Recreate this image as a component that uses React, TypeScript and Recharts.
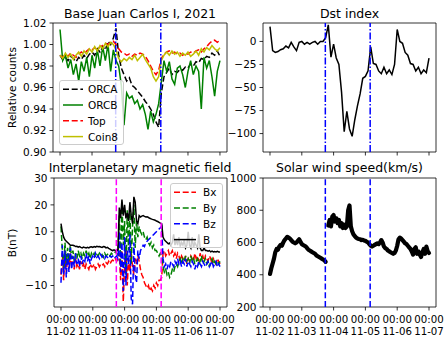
import React from "react";
import { LineChart, Line, XAxis, YAxis, ReferenceLine, ReferenceArea, Legend } from "recharts";

const FONT = '"DejaVu Sans", Verdana, sans-serif';
const W = 445;
const H = 338;

// x axis: days after 2021-11-02 00:00
const dayTicks = [0, 1, 2, 3, 4, 5];
const tickTimes = ["00:00", "00:00", "00:00", "00:00", "00:00", "00:00"];
const tickDates = ["11-02", "11-03", "11-04", "11-05", "11-06", "11-07"];
const eventDays = [1.74, 3.15];
const xDomain = [-0.22, 5.22];

const countTicks = [0.9, 0.92, 0.94, 0.96, 0.98, 1.0, 1.02];
const dstTicks = [-100, -75, -50, -25, 0];
const imfTicks = [-10, 0, 10, 20, 30];
const speedTicks = [200, 400, 600, 800, 1000];

// relative counts, every 2 hours
const orca = [
  0.990, 0.986, 0.988, 0.985, 0.989, 0.987, 0.984, 0.988, 0.986, 0.990, 0.987, 0.991,
  0.993, 0.990, 0.996, 0.993, 0.998, 0.995, 1.003, 1.000, 1.006, 1.015, 0.990, 0.978,
  0.972, 0.966, 0.969, 0.962, 0.960, 0.957, 0.954, 0.951, 0.947, 0.944, 0.940, 0.935,
  0.928, 0.923, 0.955, 0.970, 0.974, 0.978, 0.972, 0.975, 0.974, 0.977, 0.976, 0.979,
  0.978, 0.982, 0.980, 0.984, 0.983, 0.987, 0.986, 0.989, 0.988, 0.992, 0.990, 0.994,
  0.989,
];
const orcb = [
  1.014, 0.985, 0.990, 0.978, 0.986, 0.972, 0.982, 0.966, 0.984, 0.975, 0.988, 0.970,
  0.990, 0.978, 0.995, 0.980, 0.998, 0.985, 1.000, 0.975, 0.995, 0.985, 0.980, 0.962,
  0.925, 0.955, 0.950, 0.952, 0.945, 0.948, 0.940, 0.944, 0.935, 0.921, 0.938, 0.928,
  0.935, 0.945, 0.965, 0.985, 0.975, 0.984, 0.968, 0.963, 0.978, 0.980, 0.972, 0.960,
  0.975, 0.985, 0.972, 0.980, 0.975, 0.940, 0.988, 0.978, 0.985, 0.970, 0.952, 0.975,
  0.985,
];
const topCounts = [
  0.990, 0.988, 0.991, 0.989, 0.992, 0.990, 0.988, 0.991, 0.993, 0.991, 0.994, 0.996,
  0.995, 0.997, 0.995, 0.998, 0.999, 1.001, 1.000, 1.002, 1.003, 1.000, 0.996, 0.993,
  0.992, 0.990, 0.991, 0.989, 0.991, 0.990, 0.992, 0.991, 0.989, 0.985, 0.980, 0.975,
  0.972, 0.976, 0.987, 0.991, 0.993, 0.994, 0.992, 0.993, 0.991, 0.992, 0.990, 0.992,
  0.991, 0.993, 0.992, 0.994, 0.995, 0.993, 0.996, 0.998, 1.001, 1.003, 1.004, 1.002,
  1.004,
];
const coin8 = [
  0.990, 0.987, 0.992, 0.988, 0.991, 0.986, 0.990, 0.993, 0.989, 0.994, 0.991, 0.996,
  0.993, 0.998, 0.994, 0.999, 0.996, 1.001, 0.998, 1.002, 1.000, 0.995, 0.987, 0.984,
  0.987, 0.985, 0.988, 0.986, 0.990, 0.985, 0.988, 0.991, 0.986, 0.982, 0.978, 0.970,
  0.966, 0.970, 0.985, 0.990, 0.993, 0.990, 0.994, 0.991, 0.993, 0.989, 0.992, 0.990,
  0.993, 0.989, 0.991, 0.994, 0.990, 0.996, 0.993, 0.997, 0.995, 0.999, 0.996, 0.994,
  0.997,
];

// Dst (nT), every 2 hours
const dst = [
  16, -10, -12, -11, -9, -8, -5, -7, -1, -6, -10, -1,
  0, -3, -1, -3, -1, 0, -3, 0, 0, 4, 18, -17,
  -3, -18, -25, -55, -98, -76, -95, -103, -85, -70, -57, -40,
  -38, -32, -6, -24, -25, -32, -35, -28, -35, -31, -36, -25,
  13, 0, -2, -12, -15, -24, -25, -32, -28, -35, -31, -34,
  -18,
];

// IMF (nT), hourly
const bx = [
  -6, 2, -8, 3, -5, 0, -4, 2, -3, -1, -4, 0,
  -3, -2, -4, -1, -3, -2, -4, -2, -3, -4, -2, -3,
  -3, -2, -4, -3, -2, -3, -2, -2.5, -2, -3, -1.5, -2,
  -1, -2, -1, -0.5, -1, 0, -1, 0, 2, -8, 3, -16,
  -3, 4, -10, 0, -5, 2, -3, -6, 0, -2, 1, -1,
  -4, -6, -7, -9, -10, -11, -10, -12, -11, -12, -10, -11,
  -9, -10, -8, -8, -7, 2, 3, 1, 2, 3, 1, 2,
  3, 1, 2, 0, 2, 1, -1, 1, 0, -1, 1, -2,
  0, -1, 1, 0, -1, 2, 0, 1, -1, 2, 0, 1,
  -1, 1, 0, -1, 1, 0, -2, 0, -1, -2, 0, -1,
  -2,
];
const by = [
  12, 3, -4, 6, -2, 4, -1, 5, 0, 3, -1, 2,
  0, 3, 1, 2, 0, 2, 1, 3, 1, 2, 0, 2,
  1, 2, 0.5, 1.5, 1, 2, 1, 1.5, 0.5, 2, 1, 1.5,
  2, 1, 2, 1.5, 2, 2.5, 2, 1.5, 16, -3, 21, 5,
  14, -6, 18, 3, 19, -2, 12, 20, 4, 14, 8, 12,
  10, 9, 10, 8, 7, 8, 6, 5, 6, 4, 5, 3,
  3, 2, 1, 2, 1, -3, -5, -4, -6, -5, -7, -6,
  -4, -5, -3, -2, -3, -1, 0, -2, 0, -1, 1, -1,
  0, -2, 1, -1, 0, -2, -1, 0, -2, -1, 1, -2,
  -1, 0, -2, -1, -3, -1, 0, -2, -1, -2, -1, -2,
  -1,
];
const bz = [
  -9, 5, -6, 3, -7, 2, -5, 4, -4, 1, -3, 2,
  -2, 0, -3, 1, -2, 0, -1, 2, -1, 1, -2, 0,
  1, 0, 2, 0.5, 1, 0, 1.5, 0.5, 1, 0, 1, 0.5,
  0, 1, 0.5, 1, 0, 0.5, 1, 0, 10, -5, 6, -12,
  8, -10, 3, -2, 9, -15, -17, 6, -6, -9, 3, 0,
  3, 4, 5, 4.5, 6, 6.5, 7, 7.5, 8, 8.5, 9, 9.5,
  10, 10.5, 11, 11.5, 12, 0, -3, -2, -4, -2, -3, -1,
  -2, -3, -1, -2, 0, -2, -1, -3, -1, -2, 0, -3,
  -1, -2, -3, -1, -2, -4, -2, -3, -1, -2, -3, -1,
  -2, -3, -2, -1, -3, -2, -1, -3, -2, -1, -3, -2,
  -3,
];
const bTotal = [
  13, 10, 8, 7, 6.5, 6, 5.5, 5, 5, 5, 4.8, 4.5,
  4.6, 4.3, 4.5, 4.2, 4, 4.3, 4.1, 4, 4.2, 4, 4.3, 4.4,
  4.2, 4.5, 4.3, 4.6, 4.4, 4.5, 4.3, 4.2, 4.5, 4.4, 4, 4.2,
  3.8, 3.5, 3.2, 3, 3.3, 3, 2.8, 3.5, 19, 15, 22, 16,
  20, 15, 17, 14, 21, 16, 13, 23, 21, 14, 13, 16,
  15.5, 15.8, 16, 15.7, 15.5, 15.6, 15.3, 15, 14.8, 14.6, 14.5, 14.3,
  14, 13.8, 13.5, 13.2, 13, 8, 7, 6.5, 6, 5.5, 5.8, 5,
  6, 9, 5, 7, 5, 8, 4.5, 6, 5, 7, 4, 5,
  10, 5, 4, 8, 4, 6, 5, 4, 9, 4, 3, 3,
  4, 3, 3, 2.8, 3, 2.5, 2.8, 2.5, 2.6, 2.5, 2.7, 2.5,
  2.5,
];

// solar wind speed (km/s), hourly
const speed = [
  405, 440, 470, 500, 540, 560, 555, 575, 585, 580, 600, 615,
  625, 635, 630, 625, 615, 605, 600, 595, 600, 610, 620, 605,
  590, 585, 580, 575, 565, 555, 550, 545, 540, 535, 530, 520,
  515, 510, 505, 500, 495, 490, 480, null, 705, 740, 700, 760,
  770, 730, 750, 720, 740, 700, 720, 690, 710, 690, 700, 800,
  830, 700, 670, 650, 640, 630, 625, 622, 620, 615, 617, 612,
  610, 605, 600, 590, 580, 575, 580, 585, 590, 595, 590, 600,
  615, 600, 575, 565, 560, 550, 545, 540, 535, 530, 535, 550,
  580, 620, 630, 625, 615, 605, 595, 590, 580, 570, 560, 545,
  525, 560, 570, 530, 545, 525, 510, 540, 560, 530, 575, 545,
  535,
];

const cosmicData = orca.map((v, i) => ({ t: i / 12, orca: v, orcb: orcb[i], top: topCounts[i], coin8: coin8[i] }));
const dstData = dst.map((v, i) => ({ t: i / 12, dst: v }));
const imfData = bx.map((v, i) => ({ t: i / 24, bx: v, by: by[i], bz: bz[i], b: bTotal[i] }));
const speedData = speed.map((v, i) => ({ t: i / 24, v }));

const DASH = "6 2.7";
const cosmicSeries = [
  { key: "orca", name: "ORCA", color: "#000000", dash: DASH },
  { key: "orcb", name: "ORCB", color: "#008000", dash: undefined },
  { key: "top", name: "Top", color: "#ff0000", dash: DASH },
  { key: "coin8", name: "Coin8", color: "#bfbf00", dash: undefined },
];
const imfSeries = [
  { key: "bx", name: "Bx", color: "#ff0000", dash: DASH },
  { key: "by", name: "By", color: "#008000", dash: DASH },
  { key: "bz", name: "Bz", color: "#0000ff", dash: DASH },
  { key: "b", name: "B", color: "#000000", dash: undefined },
];

const FS = 10.5;
const TITLE_FS = 12.5;
const tickStyle = { fontSize: FS, fill: "#000", fontFamily: FONT };
const tickLine = { stroke: "#000", strokeWidth: 0.8 };
const fmt = (v: number) => String(v).replace("-", "\u2212");

const DateTick = (props: any) => {
  const { x, y, payload } = props;
  const i = dayTicks.indexOf(payload.value);
  return (
    <text x={x} y={y} textAnchor="middle" fontSize={10.2} fontFamily={FONT} fill="#000">
      <tspan x={x} dy={10}>{tickTimes[i]}</tspan>
      <tspan x={x} dy={12.3}>{tickDates[i]}</tspan>
    </text>
  );
};

const LegendBox = ({ items, w, textX, sampleEnd }: any) => (
  <svg width={w} height={65} style={{ display: "block" }}>
    <rect x={0.5} y={0.5} width={w - 1} height={64} rx={2.5} fill="#ffffff" fillOpacity={0.8} stroke="#cccccc" />
    {items.map((s: any, i: number) => {
      const cy = 9.2 + i * 15.8;
      return (
        <g key={s.key}>
          <line x1={4} x2={sampleEnd} y1={cy} y2={cy} stroke={s.color} strokeWidth={1.5} strokeDasharray={s.dash} />
          <text x={textX} y={cy} dominantBaseline="central" fontSize={FS} fontFamily={FONT} fill="#000">{s.name}</text>
        </g>
      );
    })}
  </svg>
);

const layer: React.CSSProperties = { position: "absolute", left: 0, top: 0 };

export default function App() {
  return (
    <div style={{ position: "absolute", left: 0, top: 0, width: W, height: H, background: "#fff", fontFamily: FONT }}>
      <div style={layer}>
        <LineChart width={W} height={H} data={cosmicData} margin={{ top: 23, right: 218, bottom: 181, left: 0 }}>
          <XAxis dataKey="t" type="number" domain={xDomain} ticks={dayTicks} allowDataOverflow axisLine={false}
            tickLine={tickLine} tickSize={3.5} height={5} tickFormatter={() => ""} />
          <YAxis type="number" domain={[0.9, 1.02]} ticks={countTicks} allowDataOverflow width={53} axisLine={false}
            tickLine={tickLine} tickSize={3.5} tickMargin={3} tick={tickStyle} tickFormatter={(v: number) => v.toFixed(2)} />
          {cosmicSeries.map((s) => (
            <Line key={s.key} dataKey={s.key} name={s.name} type="linear" stroke={s.color} strokeWidth={1.5}
              strokeDasharray={s.dash} dot={false} isAnimationActive={false} />
          ))}
          {eventDays.map((d) => (
            <ReferenceLine key={d} x={d} stroke="#0000ff" strokeWidth={1.5} strokeDasharray="7 2 1.5 2" />
          ))}
          <ReferenceArea x1={xDomain[0]} x2={xDomain[1]} y1={0.9} y2={1.02} fill="none" stroke="#000" strokeWidth={0.8} />
          <Legend layout="vertical" align="center" verticalAlign="middle"
            wrapperStyle={{ left: 59, top: 80, width: 65, height: 65 }}
            content={() => <LegendBox items={cosmicSeries} w={65} textX={29} sampleEnd={24} />} />
          <text x={140} y={18} textAnchor="middle" fontSize={TITLE_FS} fontFamily={FONT} fill="#000">Base Juan Carlos I, 2021</text>
          <text transform="rotate(-90)" x={-87.5} y={16} textAnchor="middle" fontSize={FS} fontFamily={FONT} fill="#000">Relative counts</text>
        </LineChart>
      </div>

      <div style={layer}>
        <LineChart width={W} height={H} data={dstData} margin={{ top: 23, right: 9, bottom: 181, left: 222 }}>
          <XAxis dataKey="t" type="number" domain={xDomain} ticks={dayTicks} allowDataOverflow axisLine={false}
            tickLine={tickLine} tickSize={3.5} height={5} tickFormatter={() => ""} />
          <YAxis type="number" domain={[-120, 20]} ticks={dstTicks} allowDataOverflow width={41} axisLine={false}
            tickLine={tickLine} tickSize={3.5} tickMargin={3} tick={tickStyle} tickFormatter={fmt} />
          <Line dataKey="dst" name="Dst" type="linear" stroke="#000" strokeWidth={1.5} dot={false} isAnimationActive={false} />
          {eventDays.map((d) => (
            <ReferenceLine key={d} x={d} stroke="#0000ff" strokeWidth={1.5} strokeDasharray="7 2 1.5 2" />
          ))}
          <ReferenceArea x1={xDomain[0]} x2={xDomain[1]} y1={-120} y2={20} fill="none" stroke="#000" strokeWidth={0.8} />
          <text x={349.5} y={18} textAnchor="middle" fontSize={TITLE_FS} fontFamily={FONT} fill="#000">Dst index</text>
        </LineChart>
      </div>

      <div style={layer}>
        <LineChart width={W} height={H} data={imfData} margin={{ top: 178, right: 218, bottom: 0, left: 0 }}>
          <XAxis dataKey="t" type="number" domain={xDomain} ticks={dayTicks} allowDataOverflow axisLine={false}
            tickLine={tickLine} tickSize={3.5} tickMargin={2} height={31} tick={<DateTick />} />
          <YAxis type="number" domain={[-18, 30]} ticks={imfTicks} allowDataOverflow width={54} axisLine={false}
            tickLine={tickLine} tickSize={3.5} tickMargin={3} tick={tickStyle} tickFormatter={fmt} />
          {imfSeries.map((s) => (
            <Line key={s.key} dataKey={s.key} name={s.name} type="linear" stroke={s.color} strokeWidth={1.5}
              strokeDasharray={s.dash} dot={false} isAnimationActive={false} />
          ))}
          {eventDays.map((d) => (
            <ReferenceLine key={d} x={d} stroke="#ff00ff" strokeWidth={1.5} strokeDasharray={DASH} />
          ))}
          <ReferenceArea x1={xDomain[0]} x2={xDomain[1]} y1={-18} y2={30} fill="none" stroke="#000" strokeWidth={0.8} />
          <Legend layout="vertical" align="center" verticalAlign="middle"
            wrapperStyle={{ left: 170, top: 183, width: 53, height: 65 }}
            content={() => <LegendBox items={imfSeries} w={53} textX={33} sampleEnd={26} />} />
          <text x={140} y={172} textAnchor="middle" fontSize={TITLE_FS} fontFamily={FONT} fill="#000">Interplanetary magnetic field</text>
          <text transform="rotate(-90)" x={-243} y={16} textAnchor="middle" fontSize={FS} fontFamily={FONT} fill="#000">B(nT)</text>
        </LineChart>
      </div>

      <div style={layer}>
        <LineChart width={W} height={H} data={speedData} margin={{ top: 178, right: 9, bottom: 0, left: 222 }}>
          <XAxis dataKey="t" type="number" domain={xDomain} ticks={dayTicks} allowDataOverflow axisLine={false}
            tickLine={tickLine} tickSize={3.5} tickMargin={2} height={31} tick={<DateTick />} />
          <YAxis type="number" domain={[200, 1000]} ticks={speedTicks} allowDataOverflow width={41} axisLine={false}
            tickLine={tickLine} tickSize={3.5} tickMargin={3} tick={tickStyle} tickFormatter={fmt} />
          <Line dataKey="v" name="Speed" type="linear" stroke="#000" strokeWidth={4.2} strokeLinejoin="round"
            strokeLinecap="round" dot={false} connectNulls={false} isAnimationActive={false} />
          {eventDays.map((d) => (
            <ReferenceLine key={d} x={d} stroke="#0000ff" strokeWidth={1.5} strokeDasharray={DASH} />
          ))}
          <ReferenceArea x1={xDomain[0]} x2={xDomain[1]} y1={200} y2={1000} fill="none" stroke="#000" strokeWidth={0.8} />
          <text x={349.5} y={172} textAnchor="middle" fontSize={TITLE_FS} fontFamily={FONT} fill="#000">Solar wind speed(km/s)</text>
        </LineChart>
      </div>
    </div>
  );
}
